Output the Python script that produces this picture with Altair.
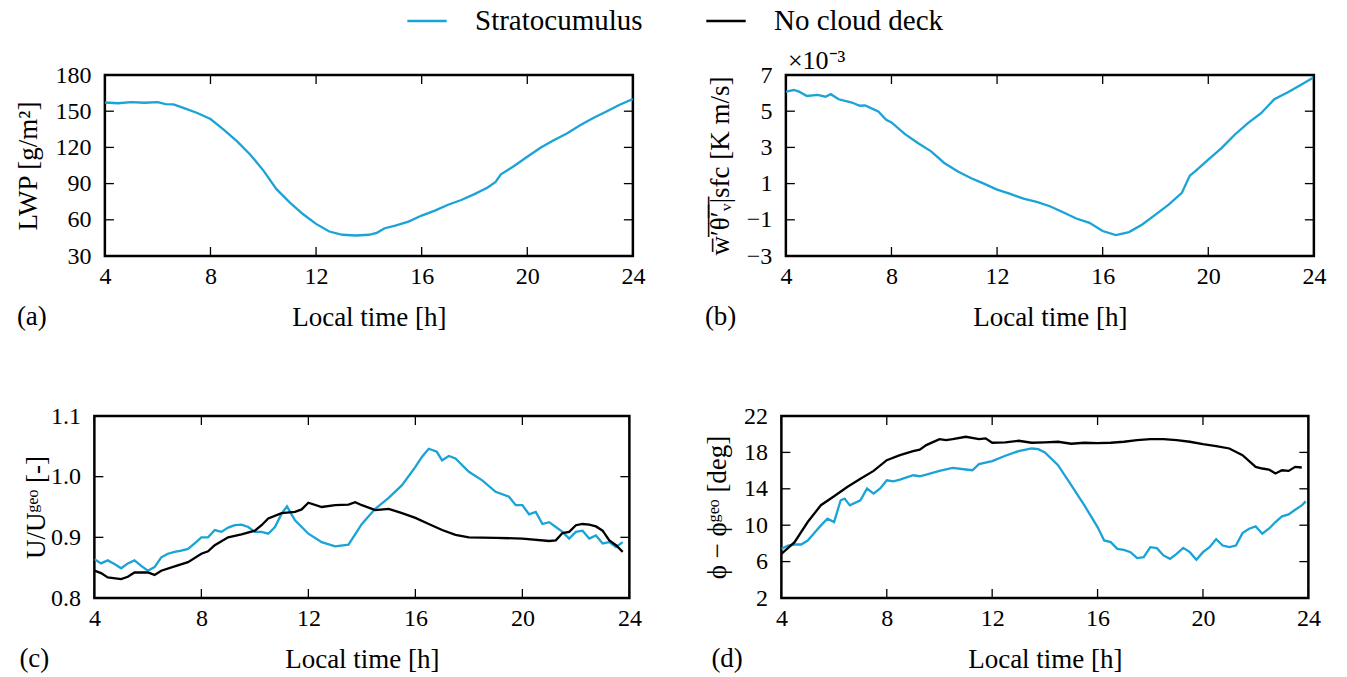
import altair as alt
import pandas as pd

BLUE = "#1aa3d6"
SERIES = ["Stratocumulus", "No cloud deck"]
FONT = "Liberation Serif"

X_TICKS = [4, 8, 12, 16, 20, 24]

# (a) LWP, stratocumulus
a_t = [4, 4.5, 5, 5.5, 6, 6.3, 6.6, 7, 7.5, 8, 8.5, 9, 9.5, 10, 10.5, 11, 11.5, 12, 12.5, 13, 13.5, 14,
       14.3, 14.6, 15, 15.5, 16, 16.5, 17, 17.5, 18, 18.5, 18.8, 19, 19.5, 20, 20.5, 21, 21.5, 22, 22.5,
       23, 23.5, 24]
a_v = [157.2, 156.6, 157.6, 157.0, 157.5, 155.8, 155.6, 152.6, 148.5, 143.5, 134.8, 125.2, 114.2, 101.0,
       85.4, 74.4, 64.8, 56.6, 50.3, 47.6, 47.0, 47.6, 49.2, 53.0, 55.2, 58.5, 63.5, 67.6, 72.5, 76.4,
       81.3, 86.8, 91.4, 97.7, 104.6, 112.3, 119.7, 126.0, 131.5, 138.3, 144.4, 149.8, 155.3, 160.0]
a_yticks = [30, 60, 90, 120, 150, 180]

# (b) surface buoyancy flux (x1e-3), stratocumulus
b_t = [4, 4.3, 4.5, 4.8, 5.2, 5.5, 5.7, 6, 6.5, 6.8, 7, 7.5, 7.8, 8, 8.5, 9, 9.5, 10, 10.5, 11, 11.5,
       12, 12.5, 13, 13.5, 14, 14.5, 15, 15.5, 16, 16.5, 17, 17.5, 18, 18.5, 19, 19.3, 19.5, 20, 20.5,
       21, 21.5, 22, 22.5, 23, 23.5, 24]
b_v = [6.08, 6.17, 6.08, 5.84, 5.9, 5.8, 5.94, 5.66, 5.48, 5.3, 5.32, 4.98, 4.52, 4.38, 3.75, 3.24,
       2.78, 2.14, 1.68, 1.31, 1.0, 0.67, 0.43, 0.17, -0.01, -0.25, -0.58, -0.93, -1.17, -1.62, -1.84,
       -1.68, -1.26, -0.71, -0.16, 0.49, 1.44, 1.68, 2.32, 2.96, 3.7, 4.34, 4.89, 5.66, 6.03, 6.45, 6.87]
b_yticks = [-3, -1, 1, 3, 5, 7]

# (c) U/Ugeo
c_t_sc = [4, 4.25, 4.5, 4.75, 5, 5.25, 5.5, 5.75, 6, 6.25, 6.5, 6.75, 7, 7.25, 7.5, 7.75, 8, 8.25, 8.5,
          8.75, 9, 9.25, 9.5, 9.75, 10, 10.25, 10.5, 10.75, 11, 11.2, 11.5, 12, 12.5, 13, 13.5, 14, 14.5,
          15, 15.5, 16, 16.25, 16.5, 16.8, 17, 17.25, 17.5, 18, 18.5, 19, 19.5, 19.75, 20, 20.25, 20.5,
          20.75, 21, 21.25, 21.5, 21.75, 22, 22.25, 22.5, 22.75, 23, 23.25, 23.5, 23.75]
c_v_sc = [0.864, 0.857, 0.862, 0.856, 0.849, 0.857, 0.862, 0.853, 0.845, 0.851, 0.867, 0.873, 0.876,
          0.878, 0.881, 0.890, 0.900, 0.900, 0.912, 0.909, 0.916, 0.920, 0.921, 0.917, 0.909, 0.909,
          0.906, 0.917, 0.939, 0.951, 0.928, 0.906, 0.892, 0.885, 0.888, 0.922, 0.947, 0.965, 0.986,
          1.016, 1.033, 1.046, 1.041, 1.027, 1.034, 1.030, 1.008, 0.994, 0.975, 0.967, 0.953, 0.953,
          0.938, 0.942, 0.922, 0.925, 0.917, 0.909, 0.898, 0.909, 0.911, 0.898, 0.903, 0.890, 0.892,
          0.884, 0.892]
c_t_nc = [4, 4.25, 4.5, 5, 5.25, 5.5, 6, 6.25, 6.5, 7, 7.5, 8, 8.25, 8.5, 9, 9.5, 10, 10.25, 10.5, 11,
          11.5, 11.75, 12, 12.5, 13, 13.5, 13.75, 14, 14.5, 15, 15.5, 16, 16.5, 17, 17.5, 18, 19, 20, 21,
          21.25, 21.5, 21.75, 22, 22.25, 22.5, 22.75, 23, 23.25, 23.5, 23.75]
c_v_nc = [0.845, 0.841, 0.834, 0.831, 0.835, 0.842, 0.842, 0.838, 0.845, 0.852, 0.859, 0.873, 0.877,
          0.887, 0.900, 0.905, 0.911, 0.920, 0.931, 0.940, 0.942, 0.946, 0.957, 0.950, 0.953, 0.954,
          0.958, 0.953, 0.945, 0.947, 0.940, 0.932, 0.922, 0.912, 0.904, 0.900, 0.899, 0.898, 0.894,
          0.895, 0.907, 0.909, 0.920, 0.922, 0.921, 0.918, 0.911, 0.895, 0.887, 0.876]
c_yticks = [0.8, 0.9, 1.0, 1.1]

# (d) wind direction
d_t_sc = [4, 4.25, 4.5, 4.75, 5, 5.25, 5.5, 5.75, 6, 6.25, 6.4, 6.6, 7, 7.25, 7.5, 7.75, 8, 8.25, 8.5,
          9, 9.25, 9.5, 10, 10.5, 11, 11.25, 11.5, 12, 12.5, 13, 13.5, 13.75, 14, 14.5, 15, 15.5, 16,
          16.25, 16.5, 16.75, 17, 17.25, 17.5, 17.75, 18, 18.25, 18.5, 18.75, 19, 19.25, 19.5, 19.75, 20,
          20.25, 20.5, 20.75, 21, 21.25, 21.5, 21.75, 22, 22.25, 22.5, 22.75, 23, 23.25, 23.5, 23.75,
          23.9]
d_v_sc = [7.4, 7.77, 7.88, 7.88, 8.32, 9.13, 9.98, 10.71, 10.35, 12.74, 12.92, 12.18, 12.74, 14.03,
          13.47, 14.03, 14.94, 14.82, 15.0, 15.49, 15.38, 15.57, 15.97, 16.3, 16.12, 16.04, 16.71, 17.04,
          17.63, 18.14, 18.43, 18.36, 17.99, 16.6, 14.4, 12.18, 9.79, 8.32, 8.14, 7.4, 7.29, 7.04, 6.38,
          6.49, 7.59, 7.48, 6.68, 6.3, 6.85, 7.51, 7.04, 6.2, 7.04, 7.59, 8.47, 7.77, 7.59, 7.77, 9.13,
          9.61, 9.87, 9.06, 9.61, 10.35, 10.97, 11.19, 11.7, 12.18, 12.62]
d_t_nc = [4, 4.5, 5, 5.5, 6, 6.5, 7, 7.5, 8, 8.5, 9, 9.25, 9.5, 10, 10.25, 10.5, 11, 11.5, 11.75, 12,
          12.5, 13, 13.5, 14, 14.5, 15, 15.5, 16, 16.5, 17, 17.5, 18, 18.5, 19, 19.5, 20, 20.5, 21, 21.5,
          22, 22.25, 22.5, 22.75, 23, 23.25, 23.5, 23.75]
d_v_nc = [6.85, 8.14, 10.35, 12.2, 13.18, 14.2, 15.1, 15.97, 17.15, 17.7, 18.14, 18.3, 18.8, 19.46,
          19.35, 19.46, 19.72, 19.46, 19.54, 19.06, 19.1, 19.28, 19.06, 19.1, 19.17, 18.95, 19.06, 19.02,
          19.06, 19.17, 19.35, 19.46, 19.46, 19.35, 19.17, 18.91, 18.7, 18.43, 17.7, 16.41, 16.23, 16.12,
          15.68, 16.04, 15.97, 16.41, 16.34]
d_yticks = [2, 6, 10, 14, 18, 22]


def frame(t, v, name):
    return pd.DataFrame({"t": t, "v": v, "s": name})


def panel(df, ydom, yticks, ytitle, W, H, label, label_dx, title_pad, factor_opacity=None,
          right_room=None):
    xs = alt.Scale(domain=[4, 24], nice=False, zero=False)
    ys = alt.Scale(domain=ydom, nice=False, zero=False)
    xax = alt.Axis(values=X_TICKS, title="Local time [h]", labelPadding=8, titlePadding=16,
                   format="d", labelFlush=False)
    yax = alt.Axis(values=yticks, title=ytitle, labelPadding=14, titlePadding=title_pad,
                   labelFlush=False)
    color = alt.Color("s:N", title=None,
                      scale=alt.Scale(domain=SERIES, range=[BLUE, "black"]),
                      legend=alt.Legend(orient="none", legendX=312, legendY=-75, direction="horizontal",
                                        symbolType="stroke", symbolSize=1550, symbolStrokeWidth=2.5,
                                        labelFont=FONT, labelFontSize=29, labelColor="black",
                                        labelLimit=400, labelOffset=27, columnPadding=58, padding=0))
    line = alt.Chart(df).mark_line(strokeWidth=2.3, clip=True).encode(
        x=alt.X("t:Q", scale=xs, axis=xax),
        y=alt.Y("v:Q", scale=ys, axis=yax),
        color=color,
        detail="s:N",
    )
    xt = pd.DataFrame({"t": X_TICKS})
    yt = pd.DataFrame({"v": yticks})
    bot = alt.Chart(xt).mark_rule(color="black", strokeWidth=1.3).encode(
        x=alt.X("t:Q", scale=xs, axis=xax), y=alt.value(H), y2=alt.value(H - 9))
    top = alt.Chart(xt).mark_rule(color="black", strokeWidth=1.3).encode(
        x=alt.X("t:Q", scale=xs, axis=xax), y=alt.value(0), y2=alt.value(9))
    left = alt.Chart(yt).mark_rule(color="black", strokeWidth=1.3).encode(
        y=alt.Y("v:Q", scale=ys, axis=yax), x=alt.value(0), x2=alt.value(9))
    right = alt.Chart(yt).mark_rule(color="black", strokeWidth=1.3).encode(
        y=alt.Y("v:Q", scale=ys, axis=yax), x=alt.value(W), x2=alt.value(W - 9))
    lab = alt.Chart(pd.DataFrame({"lab": [label]})).mark_text(
        font=FONT, fontSize=27, align="left", baseline="middle", color="black").encode(
        text="lab:N", x=alt.value(label_dx), y=alt.value(H + 61))
    layers = [line, bot, top, left, right, lab]
    if factor_opacity is not None:
        fac = alt.Chart(pd.DataFrame({"f": ["×10⁻³"]})).mark_text(
            font=FONT, fontSize=26, align="left", baseline="alphabetic", color="black",
            opacity=factor_opacity).encode(text="f:N", x=alt.value(2), y=alt.value(-6))
        layers.append(fac)
    if right_room is not None:
        # invisible spacer that widens this panel's bounds to the right
        sp = alt.Chart(pd.DataFrame({"k": [0]})).mark_rule(opacity=0, strokeWidth=1).encode(
            x=alt.value(W), x2=alt.value(W + right_room), y=alt.value(H / 2))
        layers.append(sp)
    return alt.layer(*layers).properties(width=W, height=H)


pa = panel(frame(a_t, a_v, "Stratocumulus"), [30, 180], a_yticks, "LWP  [g/m²]", 528, 181,
           "(a)", -88, 12, factor_opacity=0)
pb = panel(frame(b_t, b_v, "Stratocumulus"), [-3, 7], b_yticks, "w̅′̅θ̅′̅ᵥ̅|sfc  [K m/s]", 528, 181,
           "(b)", -81, 12, factor_opacity=1)
dfc = pd.concat([frame(c_t_sc, c_v_sc, "Stratocumulus"), frame(c_t_nc, c_v_nc, "No cloud deck")])
pc = panel(dfc, [0.8, 1.1], c_yticks, "U/Uᵍᵉᵒ  [-]", 535, 182, "(c)", -75, 0)
dfd = pd.concat([frame(d_t_sc, d_v_sc, "Stratocumulus"), frame(d_t_nc, d_v_nc, "No cloud deck")])
pd_ = panel(dfd, [2, 22], d_yticks, "ϕ − ϕᵍᵉᵒ  [deg]", 527, 182, "(d)", -70, 12, right_room=28)

row1 = alt.hconcat(pa, pb, spacing=56)
row2 = alt.hconcat(pc, pd_, spacing=58)

chart = alt.vconcat(row1, row2, spacing=70, center=True).properties(
    padding={"left": 13, "top": 0, "right": 5, "bottom": 5},
    background="white",
).configure_view(stroke="black", strokeWidth=2.5).configure_axis(
    grid=False, ticks=False, domain=False, labelFont=FONT, labelFontSize=24, labelColor="black",
    titleFont=FONT, titleFontSize=27, titleFontWeight="normal", titleColor="black",
)

chart.save("out.html", embed_options={"renderer": "svg", "actions": False})
